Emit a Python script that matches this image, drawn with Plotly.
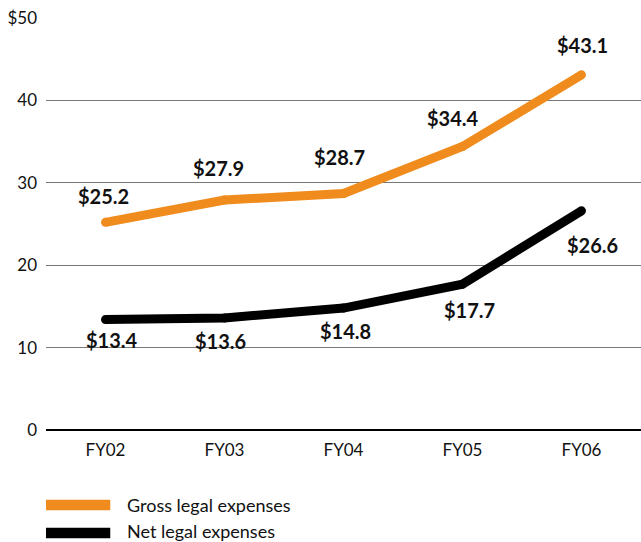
import plotly.graph_objects as go

categories = ["FY02", "FY03", "FY04", "FY05", "FY06"]
gross = [25.2, 27.9, 28.7, 34.4, 43.1]
net = [13.4, 13.6, 14.8, 17.7, 26.6]
gross_labels = ["$25.2", "$27.9", "$28.7", "$34.4", "$43.1"]
net_labels = ["$13.4", "$13.6", "$14.8", "$17.7", "$26.6"]
tick_vals = [0, 10, 20, 30, 40, 50]
tick_text = ["0", "10", "20", "30", "40", "$50"]

# label placement offsets in pixels (dx, dy) relative to each point
gross_offsets = [(-2, 26), (-6, 32), (-4, 37), (-10, 29), (1, 30)]
net_offsets = [(6, -20), (-4, -23), (2, -23), (7, -26), (11, -34)]

ORANGE = "#F08C1E"
BLACK = "#000000"
FONT = "Lato"

fig = go.Figure()
fig.add_trace(go.Scatter(x=categories, y=gross, mode="lines+markers", name="Gross legal expenses",
                         line=dict(color=ORANGE, width=9),
                         marker=dict(color=ORANGE, size=9, line=dict(width=0)),
                         cliponaxis=False, hoverinfo="skip"))
fig.add_trace(go.Scatter(x=categories, y=net, mode="lines+markers", name="Net legal expenses",
                         line=dict(color=BLACK, width=9),
                         marker=dict(color=BLACK, size=9, line=dict(width=0)),
                         cliponaxis=False, hoverinfo="skip"))

for c, v, t, (dx, dy) in zip(categories, gross, gross_labels, gross_offsets):
    fig.add_annotation(x=c, y=v, text=f"<b>{t}</b>", showarrow=False, xshift=dx, yshift=dy,
                       font=dict(family=FONT, size=20, color="#111"))
for c, v, t, (dx, dy) in zip(categories, net, net_labels, net_offsets):
    fig.add_annotation(x=c, y=v, text=f"<b>{t}</b>", showarrow=False, xshift=dx, yshift=dy,
                       font=dict(family=FONT, size=20, color="#111"))

# legend drawn manually
legend_items = [("Gross legal expenses", ORANGE, -0.182, -0.182),
                ("Net legal expenses", BLACK, -0.250, -0.244)]
for name, col, ys, yt in legend_items:
    fig.add_shape(type="rect", xref="paper", yref="paper", x0=0.0, x1=0.108,
                  y0=ys - 0.013, y1=ys + 0.013, fillcolor=col, line=dict(width=0))
    fig.add_annotation(xref="paper", yref="paper", x=0.133, y=yt, text=name, showarrow=False,
                       xanchor="left", yanchor="middle",
                       font=dict(family=FONT, size=18, color="#111"))

fig.update_layout(
    width=641, height=542,
    margin=dict(l=46, r=0, t=18, b=112),
    plot_bgcolor="white", paper_bgcolor="white",
    showlegend=False,
    font=dict(family=FONT, size=16, color="#111"),
    xaxis=dict(type="category", range=[-0.5, 4.5], showgrid=False, zeroline=False,
               showline=False, ticks="", ticklabelstandoff=8,
               tickfont=dict(family=FONT, size=17, color="#111")),
    yaxis=dict(range=[0, 50], tickvals=tick_vals, ticktext=tick_text, showgrid=True,
               gridcolor="#777", gridwidth=1, zeroline=True, zerolinecolor="#000",
               zerolinewidth=1.5, showline=False, ticks="", ticklabelstandoff=8,
               tickfont=dict(family=FONT, size=17, color="#111")),
)

fig.write_html("out.html", config={"displayModeBar": False},
               post_script="document.body.style.margin='0';")
